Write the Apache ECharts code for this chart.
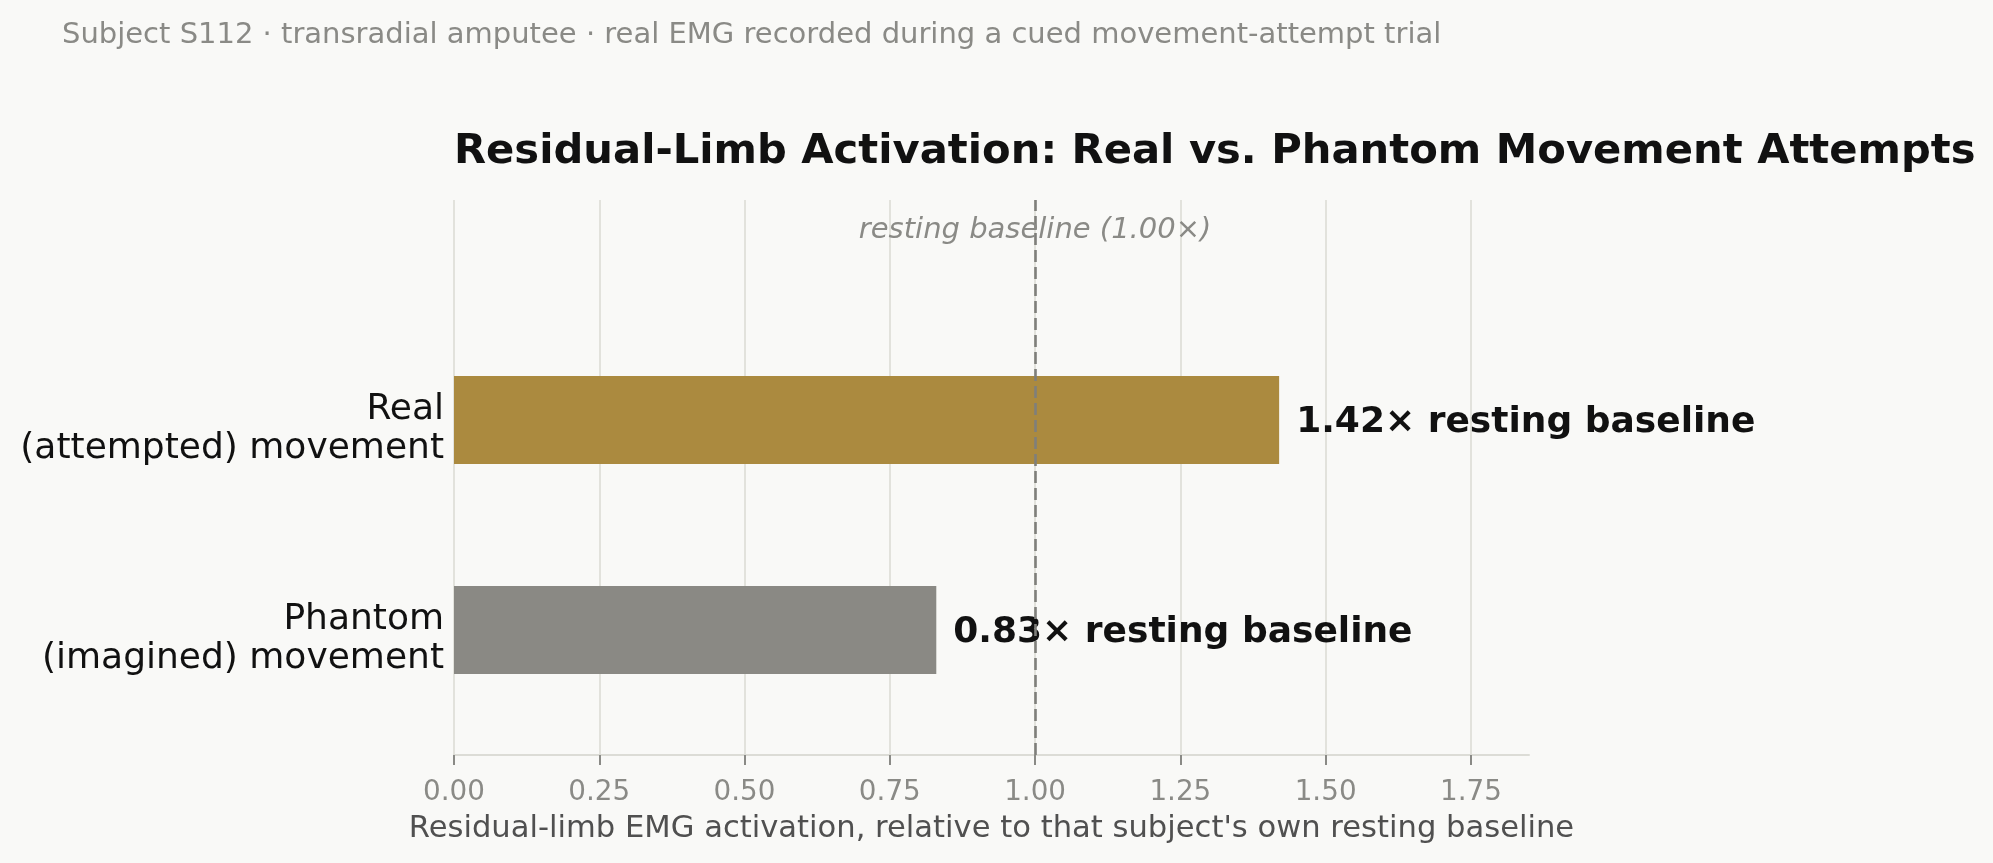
<!DOCTYPE html>
<html>
<head>
<meta charset="utf-8">
<script src="https://cdn.jsdelivr.net/npm/echarts@6/dist/echarts.min.js"></script>
<style>
  html, body { margin: 0; padding: 0; background: #f9f9f7; }
  #chart { width: 1993px; height: 863px; }
</style>
</head>
<body>
<div id="chart"></div>
<script>
// ---- data ----
const categories = ['Phantom\n(imagined) movement', 'Real\n(attempted) movement'];
const activation = [0.83, 1.42];
const barColors = ['#8a8984', '#ab8a3f'];
const baseline = 1.0;
const xTicks = [0, 0.25, 0.5, 0.75, 1.0, 1.25, 1.5, 1.75];
const xMin = 0, xMax = 1.85;
const subtitleText = 'Subject S112 \u00b7 transradial amputee \u00b7 real EMG recorded during a cued movement-attempt trial';
const titleText = 'Residual-Limb Activation: Real vs. Phantom Movement Attempts';
const xAxisName = "Residual-limb EMG activation, relative to that subject's own resting baseline";

const FONT = 'DejaVu Sans';
const chart = echarts.init(document.getElementById('chart'), null, { renderer: 'canvas' });

const option = {
  backgroundColor: '#f9f9f7',
  textStyle: { fontFamily: FONT },
  animation: false,
  title: [
    { text: subtitleText, left: 62, top: 21, padding: 0,
      textStyle: { fontFamily: FONT, fontSize: 29, fontWeight: 'normal', color: '#8a8a86', lineHeight: 29 } },
    { text: titleText, left: 454, top: 131, padding: 0,
      textStyle: { fontFamily: FONT, fontSize: 41.7, fontWeight: 'bold', color: '#111111', lineHeight: 42 } }
  ],
  grid: [
    { left: 454, right: 464, top: 200, bottom: 108 },
    { left: 454, right: 464, top: 315, bottom: 128 }
  ],
  xAxis: [
    { type: 'value', gridIndex: 0, min: xMin, max: xMax,
      axisLine: { show: true, lineStyle: { color: '#dcdcd6', width: 2 } },
      axisTick: { show: true, length: 10, customValues: xTicks, lineStyle: { color: '#8a8a86', width: 2 } },
      axisLabel: { customValues: xTicks, formatter: v => v.toFixed(2), fontFamily: FONT, fontSize: 27.8, color: '#8a8a86', margin: 24 },
      splitLine: { show: true, lineStyle: { color: '#e2e2dc', width: 2 } },
      name: xAxisName, nameLocation: 'middle', nameGap: 59,
      nameTextStyle: { fontFamily: FONT, fontSize: 30.6, color: '#505050' }
    },
    { type: 'value', gridIndex: 1, min: xMin, max: xMax, show: false }
  ],
  yAxis: [
    { type: 'value', gridIndex: 0, min: 0, max: 1, show: false },
    { type: 'category', gridIndex: 1, data: categories,
      axisLine: { show: false }, axisTick: { show: false },
      axisLabel: {
        fontFamily: FONT, fontSize: 36, color: '#111111', lineHeight: 39, margin: 10, align: 'right',
        formatter: v => '{s| }\n' + v,
        rich: { s: { fontSize: 10, lineHeight: 18 } }
      },
      splitLine: { show: false }
    }
  ],
  series: [
    {
      type: 'line', xAxisIndex: 0, yAxisIndex: 0, data: [], silent: true,
      markLine: {
        silent: true, symbol: 'none', animation: false,
        lineStyle: { type: [12, 5], color: '#7f7f7b', width: 2.6 },
        label: { show: false },
        data: [{ xAxis: baseline }]
      },
      markPoint: {
        silent: true, symbol: 'circle', symbolSize: 0, animation: false,
        label: {
          show: true, position: 'inside',
          formatter: 'resting baseline (' + baseline.toFixed(2) + '\u00d7)',
          fontFamily: FONT, fontStyle: 'italic', fontSize: 29, color: '#8a8a86'
        },
        data: [{ coord: [baseline, 0.9455] }]
      }
    },
    {
      type: 'bar', xAxisIndex: 1, yAxisIndex: 1, barWidth: 88,
      data: activation.map((v, i) => ({ value: v, itemStyle: { color: barColors[i] } })),
      label: {
        show: true, position: 'right', distance: 17,
        formatter: p => '{s| }\n{b|' + p.value.toFixed(2) + '\u00d7 resting baseline}',
        rich: {
          s: { fontSize: 4, lineHeight: 5 },
          b: { fontFamily: FONT, fontSize: 36, fontWeight: 'bold', color: '#111111', lineHeight: 40 }
        }
      }
    }
  ]
};
chart.setOption(option);
</script>
</body>
</html>
